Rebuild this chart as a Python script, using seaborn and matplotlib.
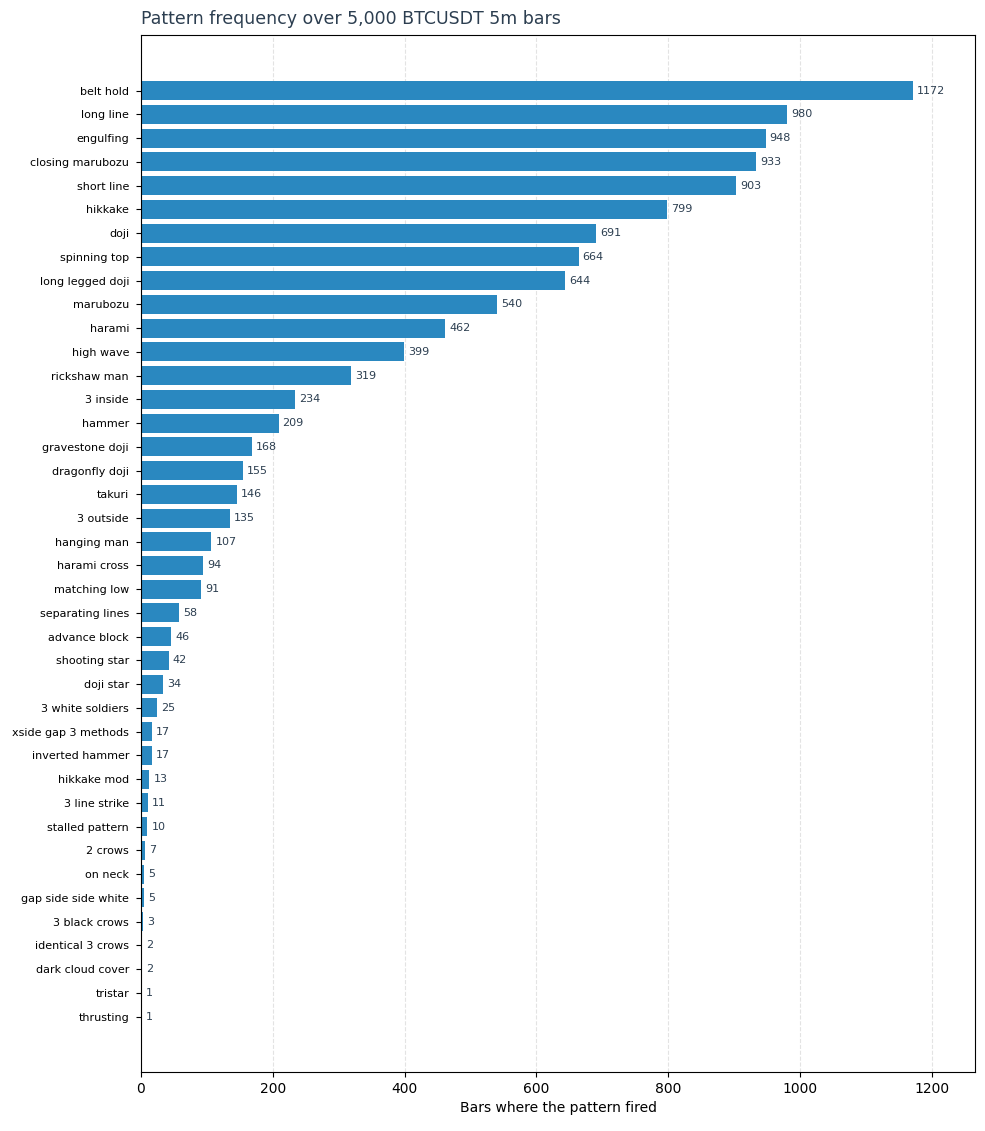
import pandas as pd
import matplotlib.pyplot as plt
import seaborn as sns

# data-----------------------------------------------
patterns = ["belt hold", "long line", "engulfing", "closing marubozu", "short line",
            "hikkake", "doji", "spinning top", "long legged doji", "marubozu",
            "harami", "high wave", "rickshaw man", "3 inside", "hammer",
            "gravestone doji", "dragonfly doji", "takuri", "3 outside", "hanging man",
            "harami cross", "matching low", "separating lines", "advance block", "shooting star",
            "doji star", "3 white soldiers", "xside gap 3 methods", "inverted hammer", "hikkake mod",
            "3 line strike", "stalled pattern", "2 crows", "on neck", "gap side side white",
            "3 black crows", "identical 3 crows", "dark cloud cover", "tristar", "thrusting"]
counts = [1172, 980, 948, 933, 903,
          799, 691, 664, 644, 540,
          462, 399, 319, 234, 209,
          168, 155, 146, 135, 107,
          94, 91, 58, 46, 42,
          34, 25, 17, 17, 13,
          11, 10, 7, 5, 5,
          3, 2, 2, 1, 1]

df = pd.DataFrame({"pattern": patterns, "count": counts})

# plot (plain matplotlib look)------------------------
plt.rcParams['font.family'] = ['DejaVu Sans']

fig, ax = plt.subplots(figsize=(9.85, 11.31), dpi=100)
fig.subplots_adjust(left=0.143, right=0.990, top=0.969, bottom=0.052)

sns.barplot(data=df, x="count", y="pattern", orient="h", color="#2a88c0",
            saturation=1, width=0.8, linewidth=0, ax=ax, zorder=2)

for i, v in enumerate(counts):
    ax.text(v + 6, i, str(v), va="center", ha="left", fontsize=8, color="#2c3e50")

ax.set_xlim(0, max(counts) * 1.08)
ax.set_ylim(len(counts) - 1 + 2.34, -2.34)
ax.grid(axis="x", linestyle="--", color="#e3e3e3", linewidth=0.8, zorder=0)
ax.set_axisbelow(True)
ax.tick_params(axis="y", labelsize=8, pad=5)
ax.tick_params(axis="x", labelsize=10)

ax.set_ylabel("")
ax.set_xlabel("Bars where the pattern fired", fontsize=10)
ax.set_title("Pattern frequency over 5,000 BTCUSDT 5m bars", loc="left",
             fontsize=12.5, color="#2c3e50", pad=8)

plt.savefig("out.png", dpi=100)
